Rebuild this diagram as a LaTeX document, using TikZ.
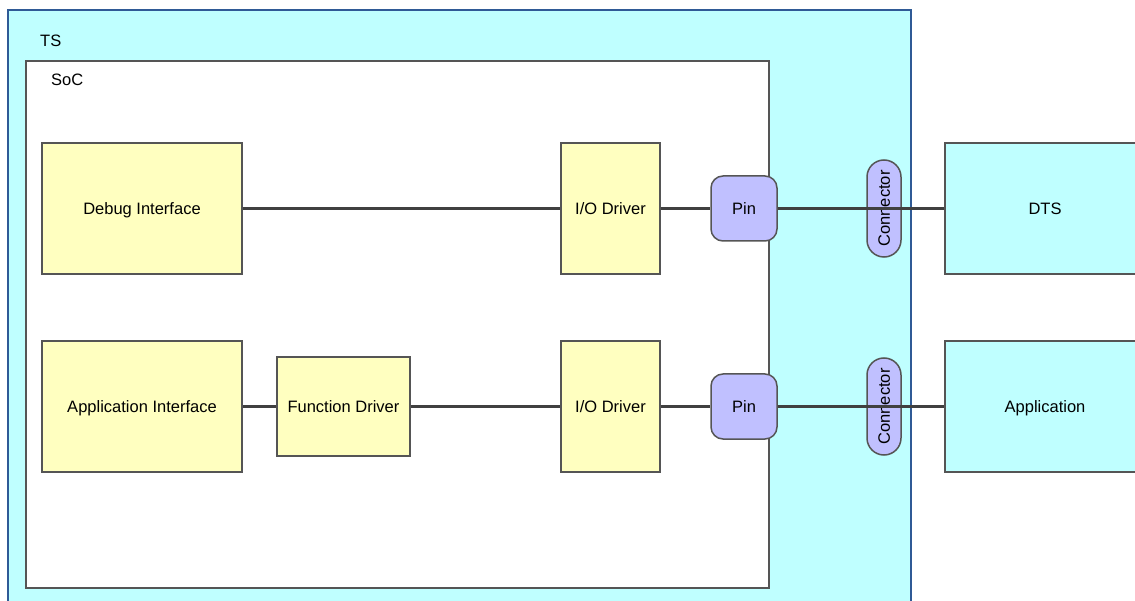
\documentclass[tikz,border=0pt]{standalone}
\usepackage{fontspec}
\setmainfont{Liberation Sans}
\usetikzlibrary{shapes.misc}
\definecolor{tscyan}{HTML}{BFFFFF}
\definecolor{tsblue}{HTML}{2F5A96}
\definecolor{boxyel}{HTML}{FFFFC0}
\definecolor{pinlav}{HTML}{C0C0FF}
\definecolor{bord}{HTML}{555555}
\definecolor{wirec}{HTML}{404040}
\tikzset{
  txt/.style={font=\fontsize{16.5}{19}\selectfont, text height=11.8pt, text depth=0pt},
  box/.style={draw=bord, line width=1.5pt, fill=boxyel, inner sep=0pt, txt},
  extbox/.style={box, fill=tscyan},
  pinbox/.style={draw=bord, line width=1.5pt, fill=pinlav, rounded corners=12pt, inner sep=0pt, minimum width=66pt, minimum height=65pt, txt},
  connbox/.style={draw=bord, line width=1.5pt, fill=pinlav, rounded rectangle, rounded rectangle arc length=180, inner sep=0pt, minimum width=97pt, minimum height=34pt, rotate=90, txt},
  wire/.style={draw=wirec, line width=2.5pt},
  lbl/.style={txt, inner sep=0pt, anchor=west}
}
\begin{document}
\begin{tikzpicture}[x=1pt,y=-1pt]
\useasboundingbox (0,0) rectangle (1135,601);
\clip (0,0) rectangle (1135,601);
\fill[white] (0,0) rectangle (1135,601);
% TS
\draw[draw=tsblue, line width=2pt, fill=tscyan] (8,10) rectangle (911,630);
\node[lbl] (tsl) at (40,41) {TS};
% SoC
\draw[draw=bord, line width=1.5pt, fill=white] (26,61) rectangle (769,588);
\node[lbl] (socl) at (51,80) {SoC};
% top row
\node[box, minimum width=200pt, minimum height=131pt] (dbg) at (142,208.5) {Debug Interface};
\node[box, minimum width=99pt, minimum height=131pt] (io1) at (610.5,208.5) {I/O Driver};
\node[pinbox] (pin1) at (744,208.5) {Pin};
\node[connbox] (con1) at (884,208.5) {Connector};
\node[extbox, minimum width=205pt, minimum height=131pt] (dts) at (1047.5,208.5) {};
\node[txt, inner sep=0pt] (dtsl) at (1045,208.5) {DTS};
% bottom row
\node[box, minimum width=200pt, minimum height=131pt] (app) at (142,406.5) {Application Interface};
\node[box, minimum width=133pt, minimum height=99pt] (fd) at (343.5,406.5) {Function Driver};
\node[box, minimum width=99pt, minimum height=131pt] (io2) at (610.5,406.5) {I/O Driver};
\node[pinbox] (pin2) at (744,406.5) {Pin};
\node[connbox] (con2) at (884,406.5) {Connector};
\node[extbox, minimum width=205pt, minimum height=131pt] (appx) at (1047.5,406.5) {};
\node[txt, inner sep=0pt] (appl) at (1045,406.5) {Application};
% wires
\draw[wire] (dbg.east) -- (io1.west);
\draw[wire] (io1.east) -- (pin1.west);
\draw[wire] (pin1.east) -- (con1.south);
\draw[wire] (con1.north) -- (dts.west);
\draw[wire] (app.east) -- (fd.west);
\draw[wire] (fd.east) -- (io2.west);
\draw[wire] (io2.east) -- (pin2.west);
\draw[wire] (pin2.east) -- (con2.south);
\draw[wire] (con2.north) -- (appx.west);
\end{tikzpicture}
\end{document}
